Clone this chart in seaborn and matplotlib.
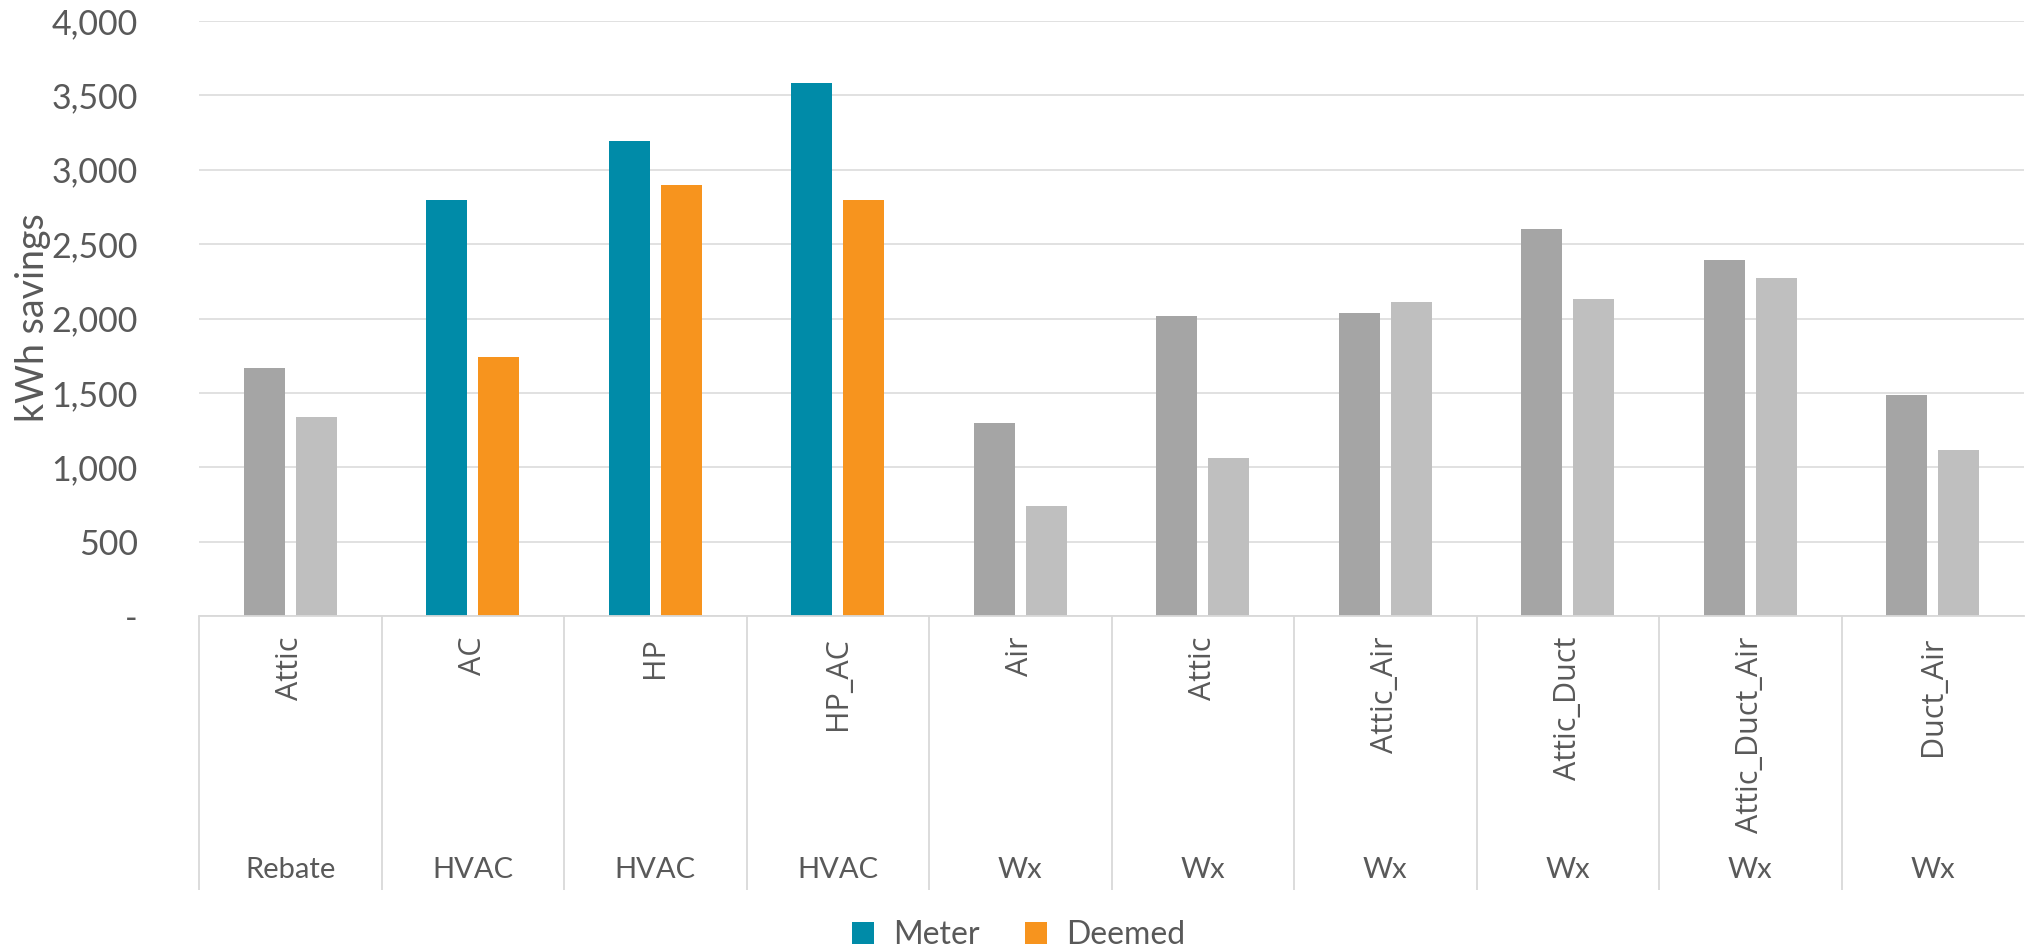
import matplotlib
matplotlib.use("Agg")
import matplotlib.pyplot as plt
from matplotlib.patches import Patch
from matplotlib.ticker import FuncFormatter, MultipleLocator
import pandas as pd
import seaborn as sns

# Program group and measure for each category on the x axis
programs = ["Rebate", "HVAC", "HVAC", "HVAC", "Wx", "Wx", "Wx", "Wx", "Wx", "Wx"]
measures = ["Attic", "AC", "HP", "HP_AC", "Air", "Attic", "Attic_Air",
            "Attic_Duct", "Attic_Duct_Air", "Duct_Air"]

# Annual kWh savings per measure
meter = [1665, 2800, 3190, 3580, 1300, 2015, 2035, 2600, 2395, 1485]
deemed = [1340, 1740, 2895, 2800, 740, 1060, 2110, 2130, 2270, 1115]
series = ["Meter", "Deemed"]

TEAL = "#008BA8"
ORANGE = "#F7941E"
GRAY_DARK = "#A5A5A5"
GRAY_LIGHT = "#BFBFBF"
TEXT = "#595959"
GRID = "#D9D9D9"

keys = [f"{p}|{m}" for p, m in zip(programs, measures)]
df = pd.DataFrame({
    "key": keys * 2,
    "series": [series[0]] * len(keys) + [series[1]] * len(keys),
    "kwh": meter + deemed,
})

sns.set_theme(style="white")
plt.rcParams["font.family"] = ["Lato", "DejaVu Sans"]

W, H = 2025, 952
fig = plt.figure(figsize=(W / 100, H / 100), dpi=100)
ax = fig.add_axes([199 / W, 1 - 616 / H, (2024 - 199) / W, (616 - 21) / H])

sns.barplot(data=df, x="key", y="kwh", hue="series", order=keys,
            hue_order=series, palette=[TEAL, ORANGE], saturation=1,
            width=0.572, gap=0.213, legend=False, ax=ax, zorder=3)

# Only the HVAC program keeps the series colours; the rest are shown in gray
for cont, gray in zip(ax.containers, [GRAY_DARK, GRAY_LIGHT]):
    for prog, bar in zip(programs, cont.patches):
        if prog != "HVAC":
            bar.set_facecolor(gray)
        bar.set_edgecolor("none")

ax.set_xlim(-0.5, len(keys) - 0.5)
ax.set_ylim(0, 4000)
ax.yaxis.set_major_locator(MultipleLocator(500))
ax.yaxis.set_major_formatter(
    FuncFormatter(lambda v, _: "-" if v == 0 else f"{v:,.0f}"))
ax.tick_params(axis="y", length=0, pad=44, labelsize=24.5, labelcolor=TEXT)
ax.tick_params(axis="x", length=0, labelbottom=False)
ax.set_xlabel("")
ax.set_ylabel("")
ax.grid(axis="y", color=GRID, linewidth=1.1, zorder=0)
ax.grid(axis="x", visible=False)
for side in ["top", "right", "left"]:
    ax.spines[side].set_visible(False)
ax.spines["bottom"].set_color(GRID)
ax.spines["bottom"].set_linewidth(1.3)
ax.spines["bottom"].set_zorder(4)

# Two-level category axis: rotated measure names above program names
xt = ax.get_xaxis_transform()
for i, (prog, meas) in enumerate(zip(programs, measures)):
    ax.text(i, -0.035, meas, transform=xt, rotation=90, ha="center",
            va="top", fontsize=22, color=TEXT,
            family=["Open Sans", "DejaVu Sans"])
    ax.text(i, -0.427, prog, transform=xt, ha="center", va="center",
            fontsize=21, color=TEXT)
ax.vlines([i - 0.5 for i in range(len(keys))], -0.4605, 0, transform=xt,
          colors=GRID, linewidth=1.3, clip_on=False)

fig.text(33 / W, 1 - 318 / H, "kWh savings", rotation=90, ha="center",
         va="center", fontsize=27, color=TEXT)

handles = [Patch(facecolor=c, edgecolor="none") for c in (TEAL, ORANGE)]
fig.legend(handles, series, loc="center", bbox_to_anchor=(0.503, 1 - 935 / H),
           ncol=2, frameon=False, fontsize=23, labelcolor=TEXT,
           handlelength=0.7, handleheight=0.7, handletextpad=0.6,
           columnspacing=1.4)

fig.savefig("out.png", dpi=100, facecolor="white")
